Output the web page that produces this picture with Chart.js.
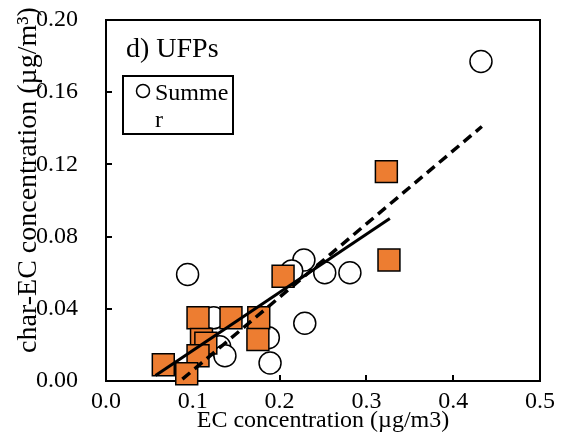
<!DOCTYPE html>
<html>
<head>
<meta charset="utf-8">
<script src="https://cdn.jsdelivr.net/npm/chart.js@4"></script>
<style>
  html, body { margin: 0; padding: 0; background: #fff; }
</style>
</head>
<body>
<canvas id="myChart" width="563" height="441"></canvas>
<script>
// summer: open circles
const summerLabel = 'Summer';
const summerX = [0.432, 0.094, 0.228, 0.214, 0.252, 0.281, 0.229, 0.187, 0.189, 0.124, 0.131, 0.137];
const summerY = [0.177, 0.059, 0.067, 0.061, 0.060, 0.060, 0.032, 0.024, 0.010, 0.035, 0.019, 0.014];
// winter: orange squares
const winterLabel = 'Winter';
const winterX = [0.323, 0.326, 0.204, 0.106, 0.144, 0.176, 0.175, 0.110, 0.115, 0.106, 0.066, 0.093];
const winterY = [0.116, 0.067, 0.058, 0.035, 0.035, 0.035, 0.023, 0.023, 0.021, 0.014, 0.009, 0.004];
// trend lines, end points
const summerFitX = [0.088, 0.433];
const summerFitY = [0.001, 0.141];
const winterFitX = [0.057, 0.327];
const winterFitY = [0.003, 0.090];

const xTicks = ['0.0', '0.1', '0.2', '0.3', '0.4', '0.5'];
const yTicks = ['0.00', '0.04', '0.08', '0.12', '0.16', '0.20'];
const panelTitle = 'd) UFPs';
const xTitle = 'EC concentration (µg/m3)';
const yTitle = 'char-EC concentration (µg/m³)';

const serif = '"Liberation Serif", "Times New Roman", serif';

function toPoints(xs, ys) {
  return xs.map((x, i) => ({x: x, y: ys[i]}));
}

// box round the plot and inner tick marks, drawn under the markers
const framePlugin = {
  id: 'frame',
  beforeDatasetsDraw(chart) {
    const {ctx, chartArea: a, scales} = chart;
    ctx.save();
    ctx.strokeStyle = '#000';
    ctx.lineWidth = 2;
    ctx.strokeRect(a.left, a.top, a.right - a.left, a.bottom - a.top);
    ctx.beginPath();
    scales.x.ticks.forEach(t => {
      const px = Math.round(scales.x.getPixelForValue(t.value));
      ctx.moveTo(px, a.bottom);
      ctx.lineTo(px, a.bottom - 6);
    });
    scales.y.ticks.forEach(t => {
      const py = Math.round(scales.y.getPixelForValue(t.value));
      ctx.moveTo(a.left, py);
      ctx.lineTo(a.left + 6, py);
    });
    ctx.stroke();
    ctx.restore();
  },
  afterDraw(chart) {
    const ctx = chart.ctx;
    ctx.save();
    ctx.fillStyle = '#000';
    // panel label
    ctx.font = '28px ' + serif;
    ctx.textAlign = 'left';
    ctx.textBaseline = 'alphabetic';
    ctx.fillText(panelTitle, 126, 57);
    // y title
    ctx.save();
    ctx.translate(29, 180);
    ctx.rotate(-Math.PI / 2);
    ctx.textAlign = 'center';
    ctx.textBaseline = 'middle';
    ctx.font = '28px ' + serif;
    ctx.fillText(yTitle, 0, 0);
    ctx.restore();
    // legend, only the summer series, text wrapped like the original box
    ctx.strokeStyle = '#000';
    ctx.lineWidth = 2;
    ctx.fillStyle = '#fff';
    ctx.fillRect(123, 76, 110, 58);
    ctx.strokeRect(123, 76, 110, 58);
    ctx.lineWidth = 1.5;
    ctx.beginPath();
    ctx.arc(143, 91, 6.5, 0, Math.PI * 2);
    ctx.stroke();
    ctx.fillStyle = '#000';
    ctx.font = '24px ' + serif;
    let lines = [], cur = '';
    for (const ch of chart.data.datasets[2].label) {
      if (ctx.measureText(cur + ch).width > 76 && cur) {
        lines.push(cur);
        cur = ch;
      } else {
        cur += ch;
      }
    }
    lines.push(cur);
    lines.forEach((l, i) => ctx.fillText(l, 155, 100 + i * 27));
    ctx.restore();
  }
};

const ctx = document.getElementById('myChart').getContext('2d');
const myChart = new Chart(ctx, {
  type: 'scatter',
  data: {
    datasets: [
      {
        label: 'summer fit',
        data: toPoints(summerFitX, summerFitY),
        showLine: true,
        borderColor: '#000',
        borderWidth: 3.5,
        borderDash: [10, 6],
        pointRadius: 0,
        order: 0
      },
      {
        label: 'winter fit',
        data: toPoints(winterFitX, winterFitY),
        showLine: true,
        borderColor: '#000',
        borderWidth: 3,
        pointRadius: 0,
        order: 0
      },
      {
        label: summerLabel,
        data: toPoints(summerX, summerY),
        pointStyle: 'circle',
        pointRadius: 11,
        backgroundColor: '#fff',
        borderColor: '#000',
        borderWidth: 1.5,
        order: 2
      },
      {
        label: winterLabel,
        data: toPoints(winterX, winterY),
        pointStyle: 'rect',
        pointRadius: 15.5,
        backgroundColor: '#ED7D31',
        borderColor: '#000',
        borderWidth: 1.5,
        clip: false,
        order: 1
      }
    ]
  },
  options: {
    responsive: false,
    animation: false,
    layout: {
      padding: {top: 20, right: 23, left: 0, bottom: 0}
    },
    plugins: {
      legend: {display: false},
      tooltip: {enabled: false}
    },
    scales: {
      x: {
        type: 'linear',
        min: 0,
        max: 0.5,
        grid: {display: false, drawTicks: false},
        border: {display: false},
        ticks: {
          stepSize: 0.1,
          padding: 6,
          color: '#000',
          font: {size: 24, family: serif},
          callback: function(value, index) {
            return xTicks[index];
          }
        },
        title: {
          display: true,
          text: xTitle,
          color: '#000',
          font: {size: 24, family: serif},
          padding: {top: 0, bottom: 6}
        },
        afterFit: function(scale) {
          scale.height = 60;
          scale.paddingLeft = 0;
          scale.paddingRight = 0;
        }
      },
      y: {
        type: 'linear',
        min: 0,
        max: 0.2,
        grid: {display: false, drawTicks: false},
        border: {display: false},
        ticks: {
          stepSize: 0.04,
          padding: 28,
          color: '#000',
          font: {size: 24, family: serif},
          callback: function(value, index) {
            return yTicks[index];
          }
        },
        afterFit: function(scale) {
          scale.width = 106;
          scale.paddingTop = 0;
          scale.paddingBottom = 0;
        }
      }
    }
  },
  plugins: [framePlugin]
});
</script>
</body>
</html>
